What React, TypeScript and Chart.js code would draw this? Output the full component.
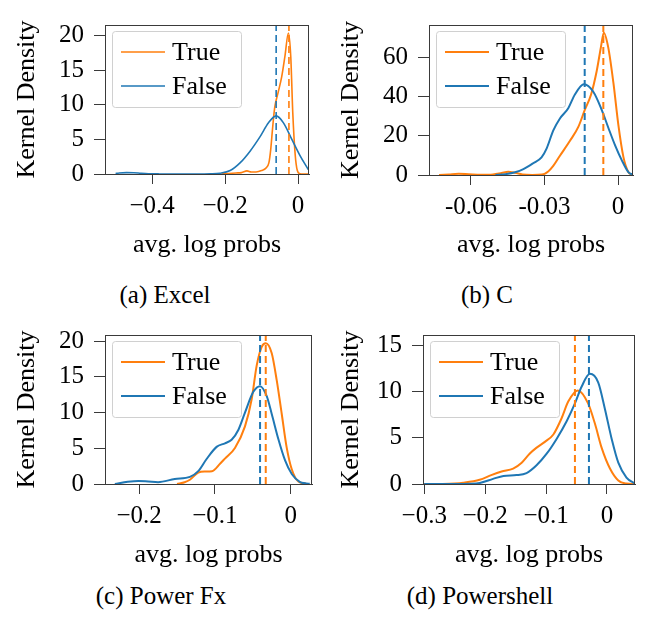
import React, { useEffect, useRef } from "react";
import { Chart, registerables } from "chart.js";

Chart.register(...registerables);

// ---------- data ----------
const seriesLabels = ["True", "False"];
const xAxisTitle = "avg. log probs";
const yAxisTitle = "Kernel Density";

// (a) Excel
const excelTrueX = [-0.21, -0.19, -0.17, -0.155, -0.14, -0.128, -0.115, -0.1, -0.088, -0.08, -0.075, -0.07, -0.064, -0.055, -0.045, -0.036, -0.0265, -0.02, -0.0145, -0.008, -0.002, 0.005, 0.015, 0.028];
const excelTrueY = [0, 0.08, 0.15, 0.2, 0.45, 0.3, 0.3, 0.5, 0.85, 1.6, 3.5, 6.5, 9.6, 11.7, 14.0, 17.0, 20.4, 17.0, 8.9, 2.9, 0.5, 0.05, 0, 0];
const excelFalseX = [-0.5, -0.49, -0.47, -0.45, -0.43, -0.41, -0.38, -0.33, -0.28, -0.24, -0.214, -0.186, -0.159, -0.1315, -0.104, -0.081, -0.06, -0.04, -0.017, 0.005, 0.028];
const excelFalseY = [0.06, 0.14, 0.2, 0.18, 0.1, 0.04, 0.01, 0, 0, 0.03, 0.12, 0.5, 1.6, 3.3, 5.4, 7.4, 8.4, 7.4, 5.0, 2.7, 0.65];
const excelMeans = [-0.025, -0.06];
const excelXTicks = [-0.4, -0.2, 0];
const excelXTickLabels = ["\u22120.4", "\u22120.2", "0"];
const excelYTicks = [0, 5, 10, 15, 20];
const excelXRange = [-0.529, 0.03];
const excelYMax = 21.55;

// (b) C
const cTrueX = [-0.073, -0.069, -0.065, -0.061, -0.056, -0.051, -0.0475, -0.0448, -0.042, -0.039, -0.035, -0.031, -0.0285, -0.0265, -0.0237, -0.0196, -0.0162, -0.0136, -0.011, -0.0087, -0.007, -0.0058, -0.004, -0.0019, 0.0001, 0.0022, 0.0042, 0.006];
const cTrueY = [0, 0.3, 0.6, 0.4, 0.1, 0.3, 1.0, 1.6, 1.1, 0.3, 0.05, 0.2, 1.8, 4.5, 9.8, 17.4, 24.5, 33, 41, 53, 65, 72.5, 65, 47, 25.8, 9.1, 1.5, 0];
const cFalseX = [-0.05, -0.046, -0.042, -0.0386, -0.0346, -0.0312, -0.0291, -0.0264, -0.0237, -0.0203, -0.0176, -0.0139, -0.0101, -0.0067, -0.004, -0.0012, 0.0015, 0.0042, 0.006];
const cFalseY = [0, 0.4, 1.4, 3.0, 6, 9, 13.6, 22.7, 28.8, 34, 41, 46.2, 42.4, 33.3, 24.2, 15.1, 7.6, 1.5, 0.2];
const cMeans = [-0.006, -0.0136];
const cXTicks = [-0.06, -0.03, 0];
const cXTickLabels = ["-0.06", "-0.03", "0"];
const cYTicks = [0, 20, 40, 60];
const cXRange = [-0.0771, 0.0061];
const cYMax = 76.4;

// (c) Power Fx
const pfTrueX = [-0.15, -0.14, -0.133, -0.122, -0.113, -0.104, -0.093, -0.0868, -0.0736, -0.0604, -0.0515, -0.0449, -0.0383, -0.033, -0.0251, -0.0185, -0.0119, -0.0053, 0.0013, 0.01, 0.02];
const pfTrueY = [0, 0.25, 0.6, 1.6, 1.75, 1.8, 2.87, 3.56, 5.05, 8.06, 11.9, 16.6, 19.2, 19.7, 18.3, 14.5, 9.8, 5.05, 2.06, 0.34, 0.05];
const pfFalseX = [-0.232, -0.215, -0.201, -0.188, -0.175, -0.153, -0.133, -0.122, -0.111, -0.0978, -0.0868, -0.078, -0.069, -0.0604, -0.0494, -0.0405, -0.0317, -0.0251, -0.0164, -0.0075, 0.0013, 0.0123, 0.019, 0.025];
const pfFalseY = [0, 0.3, 0.42, 0.35, 0.26, 0.7, 1.0, 1.8, 3.5, 5.2, 5.7, 6.2, 7.6, 10.0, 12.9, 13.7, 12.3, 9.8, 6.3, 3.3, 1.4, 0.26, 0.1, 0.03];
const pfMeans = [-0.033, -0.0405];
const pfXTicks = [-0.2, -0.1, 0];
const pfXTickLabels = ["\u22120.2", "\u22120.1", "0"];
const pfYTicks = [0, 5, 10, 15, 20];
const pfXRange = [-0.245, 0.028];
const pfYMax = 20.86;

// (d) Powershell
const psTrueX = [-0.3, -0.27, -0.25, -0.236, -0.209, -0.19, -0.173, -0.154, -0.14, -0.127, -0.116, -0.102, -0.088, -0.0745, -0.0636, -0.048, -0.031, -0.0197, -0.0087, 0.0049, 0.0186, 0.032, 0.046];
const psTrueY = [0, 0.01, 0.05, 0.13, 0.45, 0.96, 1.35, 1.67, 2.3, 3.27, 3.9, 4.55, 5.35, 7.1, 8.9, 10.1, 8.7, 6.5, 3.9, 1.67, 0.38, 0.05, 0];
const psFalseX = [-0.3, -0.25, -0.225, -0.209, -0.187, -0.17, -0.1485, -0.132, -0.116, -0.099, -0.0827, -0.066, -0.0526, -0.0417, -0.028, -0.0143, -0.0033, 0.0077, 0.0186, 0.032, 0.046];
const psFalseY = [0, 0, 0.02, 0.1, 0.55, 0.87, 0.96, 1.18, 1.99, 3.27, 4.87, 6.8, 8.7, 10.5, 11.9, 10.96, 8.08, 4.87, 2.3, 0.7, 0.05];
const psMeans = [-0.0526, -0.0296];
const psXTicks = [-0.3, -0.2, -0.1, 0];
const psXTickLabels = ["\u22120.3", "\u22120.2", "\u22120.1", "0"];
const psYTicks = [0, 5, 10, 15];
const psXRange = [-0.302, 0.046];
const psYMax = 16.09;

// ---------- style / layout ----------
const ORANGE = "#ff7f0e";
const BLUE = "#1f77b4";
const FRAME = "#3a3a3a";
const FONT = "'Liberation Serif', 'Times New Roman', serif";
const CW = 324;
const CH = 265;

type PanelCfg = {
  left: number;
  top: number;
  area: { left: number; top: number; right: number; bottom: number };
  trueX: number[]; trueY: number[];
  falseX: number[]; falseY: number[];
  means: number[];
  xTicks: number[]; xTickLabels: string[];
  yTicks: number[];
  xRange: number[]; yMax: number;
  lw: number;
  caption: string;
  capX: number; capY: number;
};

const panels: PanelCfg[] = [
  { left: 0, top: 0, area: { left: 105, top: 7, right: 309, bottom: 174 },
    trueX: excelTrueX, trueY: excelTrueY, falseX: excelFalseX, falseY: excelFalseY,
    means: excelMeans, xTicks: excelXTicks, xTickLabels: excelXTickLabels, yTicks: excelYTicks,
    xRange: excelXRange, yMax: excelYMax, lw: 1.6, caption: "(a) Excel", capX: 165, capY: 295 },
  { left: 324, top: 0, area: { left: 105, top: 7, right: 309, bottom: 175 },
    trueX: cTrueX, trueY: cTrueY, falseX: cFalseX, falseY: cFalseY,
    means: cMeans, xTicks: cXTicks, xTickLabels: cXTickLabels, yTicks: cYTicks,
    xRange: cXRange, yMax: cYMax, lw: 2, caption: "(b) C", capX: 487, capY: 295 },
  { left: 0, top: 310, area: { left: 105, top: 12, right: 312, bottom: 174 },
    trueX: pfTrueX, trueY: pfTrueY, falseX: pfFalseX, falseY: pfFalseY,
    means: pfMeans, xTicks: pfXTicks, xTickLabels: pfXTickLabels, yTicks: pfYTicks,
    xRange: pfXRange, yMax: pfYMax, lw: 2, caption: "(c) Power Fx", capX: 161, capY: 596 },
  { left: 324, top: 310, area: { left: 99, top: 7, right: 311, bottom: 174 },
    trueX: psTrueX, trueY: psTrueY, falseX: psFalseX, falseY: psFalseY,
    means: psMeans, xTicks: psXTicks, xTickLabels: psXTickLabels, yTicks: psYTicks,
    xRange: psXRange, yMax: psYMax, lw: 2, caption: "(d) Powershell", capX: 480, capY: 596 },
];

const zip = (xs: number[], ys: number[]) => xs.map((x, i) => ({ x, y: ys[i] }));

const framePlugin = {
  id: "frameAndLegend",
  afterDatasetsDraw(chart: any) {
    const { ctx, chartArea } = chart;
    const { left, top, right, bottom } = chartArea;
    ctx.save();
    ctx.strokeStyle = FRAME;
    ctx.lineWidth = 1;
    ctx.strokeRect(Math.round(left) + 0.5, Math.round(top) + 0.5, Math.round(right - left) - 1, Math.round(bottom - top));
    // legend
    const bx = left + 7;
    const by = top + 6;
    const bw = 129;
    const bh = 76;
    ctx.beginPath();
    ctx.roundRect(bx + 0.5, by + 0.5, bw, bh, 3);
    ctx.fillStyle = "rgba(255,255,255,0.8)";
    ctx.fill();
    ctx.strokeStyle = "#d0d0d0";
    ctx.lineWidth = 1;
    ctx.stroke();
    const items = chart.data.datasets.filter((d: any) => d.isSeries);
    items.forEach((d: any, i: number) => {
      const y = by + 21 + i * 34;
      ctx.beginPath();
      ctx.strokeStyle = d.borderColor;
      ctx.lineWidth = d.borderWidth;
      ctx.moveTo(bx + 9, y);
      ctx.lineTo(bx + 53, y);
      ctx.stroke();
      ctx.fillStyle = "#000";
      ctx.font = `26px ${FONT}`;
      ctx.textBaseline = "middle";
      ctx.textAlign = "left";
      ctx.fillText(d.label, bx + 60, y + 1);
    });
    ctx.restore();
  },
};

function Panel({ cfg }: { cfg: PanelCfg }) {
  const ref = useRef<HTMLCanvasElement | null>(null);
  useEffect(() => {
    if (!ref.current) return;
    const a = cfg.area;
    const tickFont = { family: FONT, size: 25 };
    const titleFont = { family: FONT, size: 26 };
    const chart = new Chart(ref.current, {
      type: "line",
      data: {
        datasets: [
          { label: "meanTrue", data: [{ x: cfg.means[0], y: 0 }, { x: cfg.means[0], y: cfg.yMax }],
            borderColor: ORANGE, borderWidth: cfg.lw, borderDash: [7, 4], pointRadius: 0, order: 0 } as any,
          { label: "meanFalse", data: [{ x: cfg.means[1], y: 0 }, { x: cfg.means[1], y: cfg.yMax }],
            borderColor: BLUE, borderWidth: cfg.lw, borderDash: [7, 4], pointRadius: 0, order: 0 } as any,
          { label: seriesLabels[0], isSeries: true, data: zip(cfg.trueX, cfg.trueY), borderColor: ORANGE,
            borderWidth: cfg.lw, pointRadius: 0, cubicInterpolationMode: "monotone", order: 2 } as any,
          { label: seriesLabels[1], isSeries: true, data: zip(cfg.falseX, cfg.falseY), borderColor: BLUE,
            borderWidth: cfg.lw, pointRadius: 0, cubicInterpolationMode: "monotone", order: 1 } as any,
        ],
      },
      options: {
        animation: false,
        responsive: false,
        events: [],
        layout: { padding: { left: 0, top: a.top, right: CW - a.right, bottom: 0 } },
        plugins: { legend: { display: false }, tooltip: { enabled: false } },
        scales: {
          x: {
            type: "linear",
            min: cfg.xRange[0],
            max: cfg.xRange[1],
            afterBuildTicks: (s: any) => { s.ticks = cfg.xTicks.map((v) => ({ value: v })); },
            afterFit: (s: any) => { s.height = CH - a.bottom; },
            grid: { drawOnChartArea: false, drawTicks: true, tickLength: 10, color: FRAME, lineWidth: 1 },
            border: { display: true, color: FRAME, width: 1 },
            ticks: {
              autoSkip: false, maxRotation: 0, padding: 7.5, color: "#000", font: tickFont,
              callback: (_v: any, i: number) => cfg.xTickLabels[i],
            },
            title: { display: true, text: xAxisTitle, color: "#000", font: titleFont, padding: { top: 0, bottom: 4.4 } },
          },
          y: {
            type: "linear",
            min: 0,
            max: cfg.yMax,
            afterBuildTicks: (s: any) => { s.ticks = cfg.yTicks.map((v) => ({ value: v })); },
            afterFit: (s: any) => { s.width = a.left; },
            grid: { drawOnChartArea: false, drawTicks: true, tickLength: 11, color: FRAME, lineWidth: 1 },
            border: { display: true, color: FRAME, width: 1 },
            ticks: {
              autoSkip: false, padding: 10, color: "#000", font: tickFont,
              callback: (v: any) => String(v),
            },
            title: { display: true, text: yAxisTitle, color: "#000", font: titleFont, padding: { top: 11.4, bottom: 0 } },
          },
        },
      },
      plugins: [framePlugin],
    } as any);
    return () => chart.destroy();
  }, [cfg]);
  return (
    <canvas
      ref={ref}
      width={CW}
      height={CH}
      style={{ position: "absolute", left: cfg.left, top: cfg.top, width: CW, height: CH }}
    />
  );
}

export default function App() {
  return (
    <div style={{ position: "absolute", left: 0, top: 0, width: 648, height: 619, background: "#fff", overflow: "hidden" }}>
      {panels.map((p) => (
        <Panel key={p.caption} cfg={p} />
      ))}
      {panels.map((p) => (
        <div
          key={"cap" + p.caption}
          style={{
            position: "absolute", left: p.capX - 120, top: p.capY - 13, width: 240, textAlign: "center",
            fontFamily: FONT, fontSize: 25, lineHeight: "26px", color: "#000", whiteSpace: "nowrap",
          }}
        >
          {p.caption}
        </div>
      ))}
    </div>
  );
}
